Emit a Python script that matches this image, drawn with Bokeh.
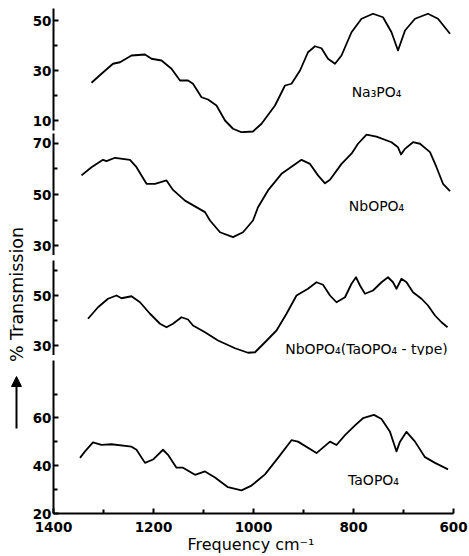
from math import pi
from bokeh.plotting import figure
from bokeh.layouts import row, column
from bokeh.models import Range1d, FixedTicker, Label, Arrow, NormalHead
from bokeh.embed import file_html
from bokeh.resources import INLINE

# ---- data ----
freq_na = [1324, 1304, 1281, 1267, 1244, 1217, 1204, 1184, 1164, 1147, 1131, 1121, 1104, 1091, 1074,
           1057, 1041, 1024, 1001, 984, 957, 937, 924, 907, 891, 877, 864, 851, 837, 824,
           804, 784, 761, 741, 724, 711, 697, 677, 651, 631, 607]
val_na = [25.1, 28.7, 32.7, 33.3, 36.0, 36.4, 34.7, 34.0, 30.7, 26.0, 26.0, 24.7, 19.3, 18.4, 16.0,
          10.0, 6.7, 5.3, 5.6, 8.7, 16.0, 24.0, 24.7, 30.0, 37.3, 39.7, 38.9, 34.7, 32.7, 36.0,
          45.3, 50.7, 52.7, 51.3, 45.3, 38.0, 46.0, 50.7, 52.7, 50.7, 44.7]

freq_nb = [1344, 1324, 1301, 1294, 1277, 1247, 1234, 1214, 1197, 1174, 1161, 1137, 1097, 1087, 1067,
           1041, 1021, 1001, 991, 971, 944, 904, 887, 871, 857, 847, 824, 804, 791, 774,
           754, 724, 711, 705, 697, 681, 667, 647, 634, 621, 607]
val_nb = [57.5, 60.7, 63.6, 63.1, 64.4, 63.6, 60.7, 54.2, 54.2, 55.5, 51.8, 47.6, 43.1, 39.8, 35.2,
          33.3, 35.2, 39.8, 45.0, 51.6, 58.1, 63.6, 62.0, 57.5, 54.4, 55.8, 62.0, 66.0, 69.9, 73.5,
          72.7, 70.5, 68.5, 65.7, 67.9, 70.5, 69.9, 66.6, 60.7, 54.2, 51.3]

freq_nbt = [1331, 1311, 1291, 1274, 1264, 1244, 1227, 1207, 1187, 1174, 1161, 1144, 1131, 1121, 1097,
            1071, 1037, 1011, 997, 977, 954, 934, 914, 891, 874, 861, 847, 834, 817, 804,
            795, 787, 777, 761, 744, 731, 721, 714, 704, 694, 681, 664, 651, 637, 624, 612]
val_nbt = [40.7, 45.3, 48.7, 50.0, 48.9, 49.7, 47.3, 42.7, 38.7, 37.3, 38.7, 41.3, 40.4, 38.0, 35.3,
           32.0, 28.9, 27.1, 27.3, 31.3, 36.0, 42.7, 50.0, 52.7, 55.3, 54.3, 50.0, 47.3, 49.3, 54.7,
           57.3, 54.0, 50.7, 52.0, 55.3, 57.3, 55.3, 52.7, 56.7, 55.3, 51.3, 48.7, 46.0, 42.0, 39.3, 37.3]

freq_ta = [1347, 1337, 1321, 1304, 1284, 1244, 1234, 1217, 1201, 1181, 1171, 1154, 1141, 1117, 1097,
           1077, 1051, 1024, 1004, 977, 951, 924, 911, 874, 847, 834, 817, 797, 781, 759,
           744, 727, 714, 707, 694, 677, 657, 637, 611]
val_ta = [43.3, 46.0, 49.8, 48.7, 49.0, 48.0, 46.7, 41.2, 42.6, 46.7, 44.6, 39.2, 39.2, 36.2, 37.6,
          35.1, 31.0, 29.7, 31.7, 36.4, 43.3, 50.7, 50.1, 45.3, 50.1, 48.7, 52.8, 56.9, 59.9, 61.3,
          59.6, 54.2, 46.0, 50.1, 54.2, 50.1, 43.6, 41.2, 38.5]

names = ["Na\u2083PO\u2084", "NbOPO\u2084", "NbOPO\u2084(TaOPO\u2084 - type)", "TaOPO\u2084"]
name_pos_x = [754, 754, 774, 760]
name_pos_y = [21.6, 45.3, 28.8, 33.9]

y_ranges = [(4.8, 54.8), (26.08, 73.92), (26.0, 64.0), (20.0, 84.08)]
y_bounds = [(6.0, 54.8), (26.08, 73.92), (26.0, 64.0), (20.0, 84.08)]
y_major = [[10, 30, 50], [30, 50, 70], [30, 50], [20, 40, 60]]
y_minor = [[20, 40], [40, 60], [40, 60], [30, 50, 70]]
x_major = [1400, 1200, 1000, 800, 600]
x_minor = [1300, 1100, 900, 700]

series = [(freq_na, val_na), (freq_nb, val_nb), (freq_nbt, val_nbt), (freq_ta, val_ta)]
heights = [133, 122, 100, 201]
tops = [8, 0, 5, 5]

x_range = Range1d(1400, 600)
figs = []
for i in range(4):
    last = (i == 3)
    f = figure(width=441, height=heights[i], output_backend="svg", toolbar_location=None,
               x_range=x_range, y_range=Range1d(*y_ranges[i]),
               x_axis_location="below" if last else None,
               min_border_left=25, min_border_right=16, min_border_top=tops[i],
               min_border_bottom=39 if last else 0)
    f.outline_line_color = None
    f.background_fill_color = "white"
    f.border_fill_color = "white"
    f.grid.visible = False
    ya = f.yaxis[0]
    ya.ticker = FixedTicker(ticks=y_major[i], minor_ticks=y_minor[i])
    ya.bounds = y_bounds[i]
    ya.axis_line_width = 2
    ya.major_tick_line_width = 2
    ya.minor_tick_line_width = 2
    ya.major_tick_in = 5
    ya.major_tick_out = 0
    ya.minor_tick_in = 4
    ya.minor_tick_out = 0
    ya.major_label_standoff = 2
    ya.major_label_text_font = "DejaVu Sans"
    ya.major_label_text_font_style = "bold"
    ya.major_label_text_font_size = "13.5px"
    ya.major_label_text_color = "black"
    if last:
        xa = f.xaxis[0]
        xa.ticker = FixedTicker(ticks=x_major, minor_ticks=x_minor)
        xa.axis_line_width = 2
        xa.major_tick_line_width = 2
        xa.minor_tick_line_width = 2
        xa.major_tick_in = 5
        xa.major_tick_out = 0
        xa.minor_tick_in = 4
        xa.minor_tick_out = 0
        xa.major_label_standoff = 8
        xa.major_label_text_font = "DejaVu Sans"
        xa.major_label_text_font_style = "bold"
        xa.major_label_text_font_size = "13.5px"
        xa.major_label_text_color = "black"
        xa.axis_label = "Frequency  cm\u207b\u00b9"
        xa.axis_label_standoff = 0
        xa.axis_label_text_font = "DejaVu Sans"
        xa.axis_label_text_font_style = "normal"
        xa.axis_label_text_font_size = "16px"
        xa.axis_label_text_color = "black"
    fx, fy = series[i]
    f.line(fx, fy, line_color="black", line_width=1.8, line_join="round")
    f.add_layout(Label(x=name_pos_x[i], y=name_pos_y[i], text=names[i],
                       text_align="center", text_baseline="middle",
                       text_font="DejaVu Sans", text_font_size="14px", text_color="black"))
    figs.append(f)

# left label strip
lab = figure(width=28, height=556, output_backend="svg", toolbar_location=None,
             x_range=Range1d(0, 28), y_range=Range1d(556, 0),
             x_axis_location=None, y_axis_location=None,
             min_border_left=0, min_border_right=0, min_border_top=0, min_border_bottom=0)
lab.outline_line_color = None
lab.grid.visible = False
lab.add_layout(Label(x=16, y=294, text="% Transmission", angle=pi / 2,
                     text_align="center", text_baseline="middle",
                     text_font="DejaVu Sans", text_font_size="17.5px", text_color="black"))
lab.add_layout(Arrow(x_start=16, y_start=428, x_end=16, y_end=376, line_width=2,
                     line_color="black",
                     end=NormalHead(size=10, fill_color="black", line_color="black")))

layout = row(lab, column(*figs, spacing=0), spacing=0)
open("out.html", "w").write(file_html(layout, INLINE))
